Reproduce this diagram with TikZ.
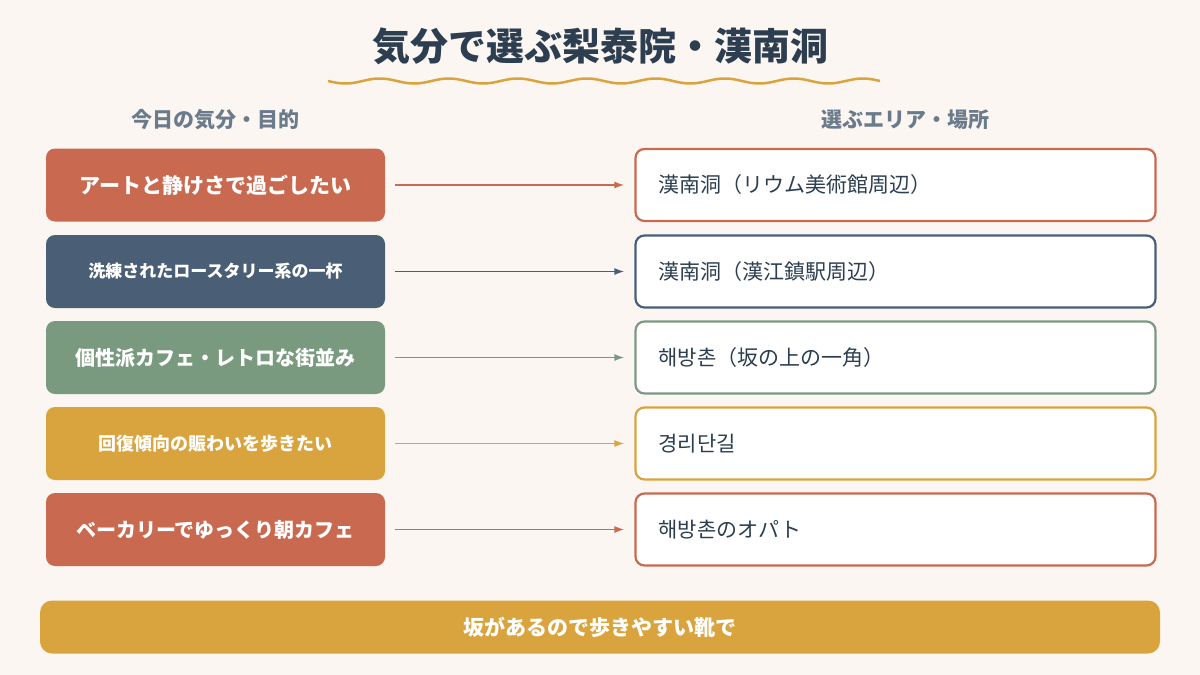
\documentclass[tikz,border=0pt]{standalone}
\usepackage{fontspec}
\setmainfont{Noto Sans CJK JP}
\usetikzlibrary{arrows.meta}
\definecolor{bg}{HTML}{FBF6F1}
\definecolor{cR}{HTML}{C96A50}
\definecolor{cB}{HTML}{4A5E75}
\definecolor{cG}{HTML}{7A9A80}
\definecolor{cY}{HTML}{D9A43E}
\definecolor{dark}{HTML}{2C3E50}
\definecolor{sub}{HTML}{6B7B8C}
\tikzset{
 lbox/.style={rounded corners=9pt,minimum width=339pt,minimum height=73pt,text=white,font=\bfseries\fontsize{21}{24}\selectfont,inner sep=0pt},
 rbox/.style={rounded corners=9pt,draw,line width=2.2pt,fill=white,minimum width=520pt,minimum height=72pt,inner sep=0pt},
 rtxt/.style={anchor=west,text=dark,font=\fontsize{21}{24}\selectfont},
 arr/.style={-{Latex[length=10pt,width=7pt]},line width=1.6pt},
 hd/.style={text=sub,font=\bfseries\fontsize{21}{24}\selectfont}
}
\begin{document}
\begin{tikzpicture}[x=1pt,y=-1pt]
\fill[bg] (0,0) rectangle (1200,675);
\useasboundingbox (0,0) rectangle (1200,675);
\node[text=dark,font=\bfseries\fontsize{38}{44}\selectfont] (title) at (600,46) {気分で選ぶ梨泰院・漢南洞};
\draw[cY,line width=2.5pt] plot[domain=0:552,samples=250] ({328+\x},{81+2.5*sin(\x*5.217)});
\node[hd] (h1) at (215,120) {今日の気分・目的};
\node[hd] (h2) at (905,120) {選ぶエリア・場所};
\foreach \i/\y/\c/\l/\r/\fs in {
 1/185/cR/アートと静けさで過ごしたい/漢南洞（リウム美術館周辺）/21,
 2/271.5/cB/洗練されたロースタリー系の一杯/漢南洞（漢江鎮駅周辺）/17,
 3/357.5/cG/個性派カフェ・レトロな街並み/해방촌（坂の上の一角）/20,
 4/443.5/cY/回復傾向の賑わいを歩きたい/경리단길/18,
 5/529.5/cR/ベーカリーでゆっくり朝カフェ/해방촌のオパト/20}{
 \node[lbox,fill=\c,font=\bfseries\fontsize{\fs}{24}\selectfont] (L\i) at (215.5,\y) {\l};
 \node[rbox,draw=\c] (R\i) at (895.5,\y) {};
 \node[rtxt] (T\i) at (655,\y) {\r};
 \draw[arr,\c] ([xshift=10pt]L\i.east) -- ([xshift=-10pt]R\i.west);
}
\node[rounded corners=12pt,fill=cY,minimum width=1120pt,minimum height=53pt,text=white,font=\bfseries\fontsize{21}{24}\selectfont] (foot) at (600,627) {坂があるので歩きやすい靴で};
\end{tikzpicture}
\end{document}
